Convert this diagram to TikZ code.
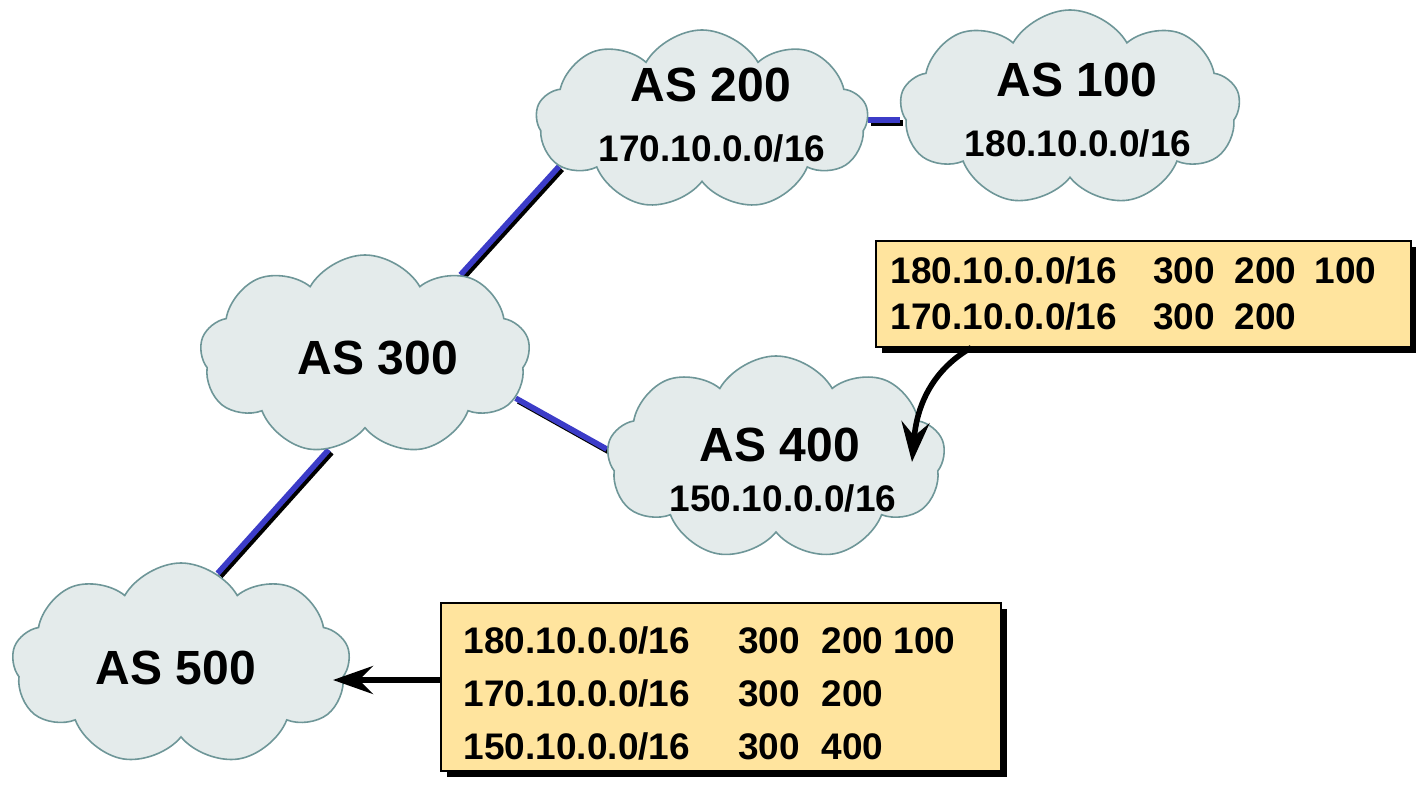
\documentclass[tikz,border=0pt]{standalone}
\usepackage{fontspec}
\setmainfont{Liberation Sans}
\usetikzlibrary{shapes.symbols,shadows,arrows.meta,backgrounds}

\definecolor{cloudfill}{RGB}{228,235,235}
\definecolor{clouddraw}{RGB}{110,150,152}
\definecolor{linkblue}{RGB}{60,60,200}
\definecolor{ribfill}{RGB}{255,228,158}

\tikzset{
  ascloud/.style={cloud, cloud puffs=9, cloud puff arc=120, cloud ignores aspect,
    draw=clouddraw, fill=cloudfill, line width=0.8pt, inner sep=0pt},
  asname/.style={font=\bfseries\fontsize{24}{28}\selectfont, inner sep=0pt},
  asprefix/.style={font=\bfseries\fontsize{18.5}{22}\selectfont, inner sep=0pt},
  link/.style={draw=linkblue, line width=2.8pt,
    preaction={draw=black, line width=2.8pt, transform canvas={shift={(1.4pt,-1.4pt)}}}},
  ribbox/.style={draw=black, fill=ribfill, line width=0.8pt, anchor=north west, align=left,
    drop shadow={fill=black, opacity=1, shadow xshift=3pt, shadow yshift=-3pt}},
  adv/.style={-{Stealth[length=20pt,width=14pt,inset=7pt]}, line width=2.8pt},
}

\begin{document}
\begin{tikzpicture}[x=0.5pt,y=-0.5pt]
  \useasboundingbox (0,0) rectangle (1416,785);

  % autonomous systems
  \node[ascloud, minimum width=166pt, minimum height=90pt] (as200) at (702,120) {};
  \node[ascloud, minimum width=170pt, minimum height=98pt] (as100) at (1070,108) {};
  \node[ascloud, minimum width=165pt, minimum height=100pt] (as300) at (365,355) {};
  \node[ascloud, minimum width=169pt, minimum height=102pt] (as400) at (776,458) {};
  \node[ascloud, minimum width=169pt, minimum height=101pt] (as500) at (181,664) {};

  \node[asname] (n200) at (711,85) {AS 200};
  \node[asprefix] (p200) at (712,148) {170.10.0.0/16};
  \node[asname] (n100) at (1077,80) {AS 100};
  \node[asprefix] (p100) at (1078,143) {180.10.0.0/16};
  \node[asname] (n300) at (378,358) {AS 300};
  \node[asname] (n400) at (780,445) {AS 400};
  \node[asprefix] (p400) at (783,498) {150.10.0.0/16};
  \node[asname] (n500) at (176,668) {AS 500};

  % peerings
  \begin{scope}[on background layer]
    \draw[link] (as300.40) -- (as200.198);
    \draw[link] (as200.east) -- (as200.east -| as100.west);
    \draw[link] (as300.344) -- (as400.177);
    \draw[link] (as300.249) -- (as500.68);
  \end{scope}

  % routing tables
  \node[ribbox, minimum width=267.5pt, minimum height=53pt, text width=252.5pt, inner xsep=7.5pt,
    font=\bfseries\fontsize{18.5}{23}\selectfont] (rib1) at (875,240)
    {180.10.0.0/16\hspace{18pt}300\hspace{10pt}200\hspace{9pt}100\\
     170.10.0.0/16\hspace{18pt}300\hspace{10pt}200};
  \node[ribbox, minimum width=280pt, minimum height=84pt, text width=257pt, inner xsep=11.5pt,
    text height=20pt, font=\bfseries\fontsize{18.5}{26.5}\selectfont] (rib2) at (440,602)
    {180.10.0.0/16\hspace{24pt}300\hspace{11pt}200\hspace{5pt}100\\
     170.10.0.0/16\hspace{24pt}300\hspace{11pt}200\\
     150.10.0.0/16\hspace{24pt}300\hspace{11pt}400};

  % advertisements
  \coordinate (tip400) at ([shift={(136,4)}]as400.center);
  \coordinate (tip500) at ([shift={(152,16)}]as500.center);
  \draw[adv] ([xshift=-86pt]rib1.south) to[out=210,in=85] (tip400);
  \draw[adv] (rib2.west |- tip500) -- (tip500);
\end{tikzpicture}
\end{document}
